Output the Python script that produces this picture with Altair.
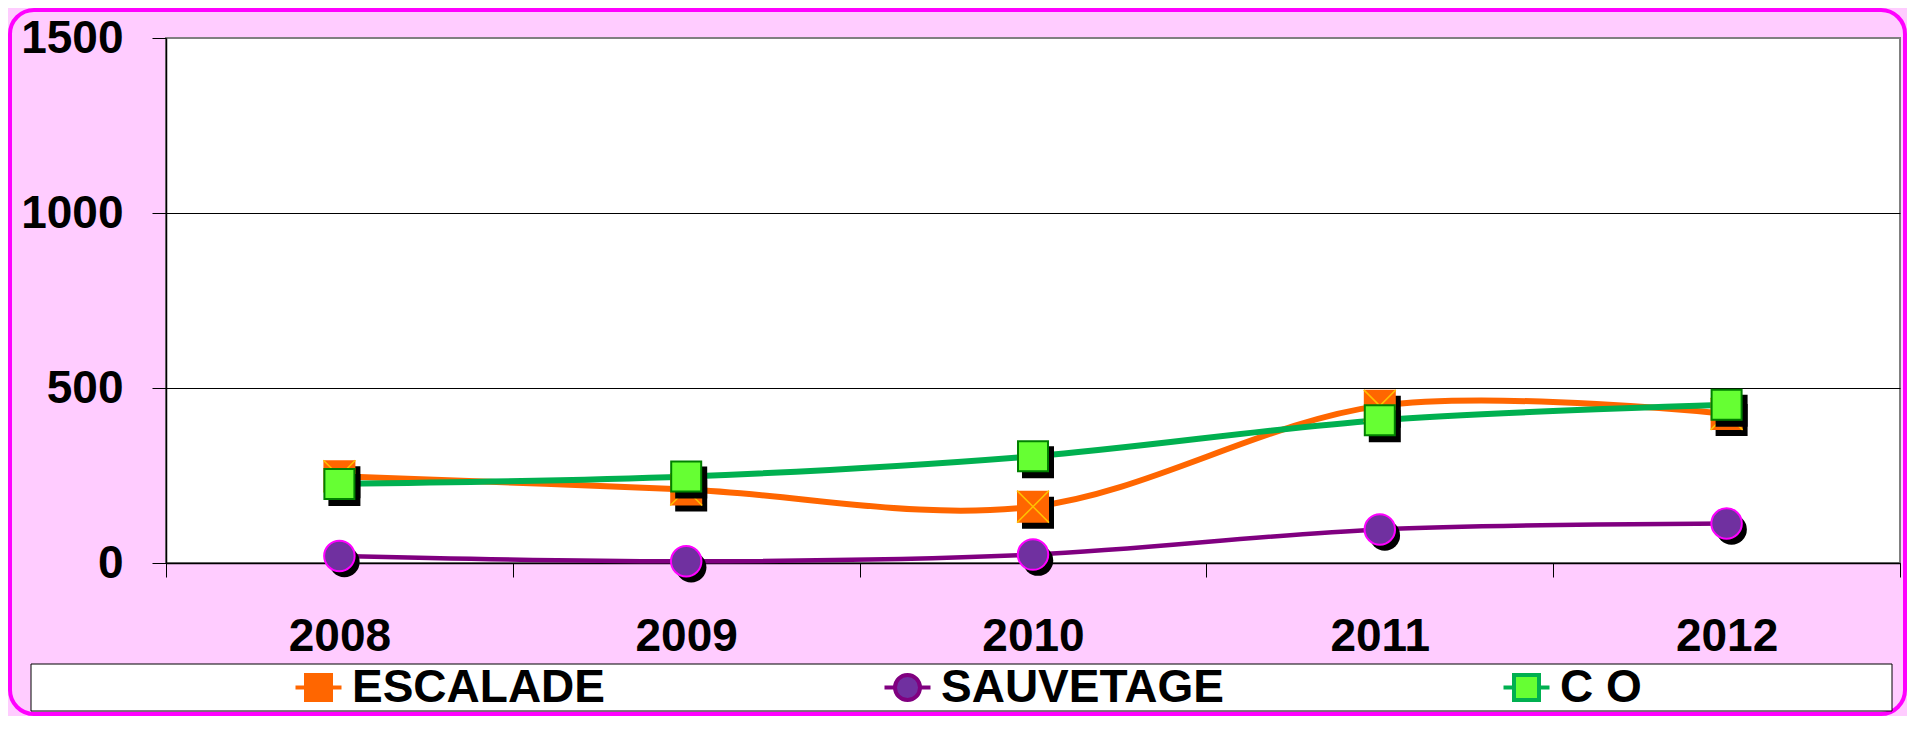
import altair as alt
import pandas as pd

# ---------------- data ----------------
years = ["2008", "2009", "2010", "2011", "2012"]
series_names = ["ESCALADE", "SAUVETAGE", "C O"]
escalade = [248, 210, 161, 449, 426]
sauvetage = [20, 5, 24, 96, 113]
co = [226, 247, 305, 408, 452]
y_ticks = [0, 500, 1000, 1500]

line_colors = ["#FF6600", "#800080", "#00B050"]
marker_fills = ["#FF6600", "#7030A0", "#66FF33"]

rows = []
for name, vals in zip(series_names, [escalade, sauvetage, co]):
    for yr, v in zip(years, vals):
        rows.append({"year": yr, "series": name, "value": v})
df = pd.DataFrame(rows)

# ---------------- layout / style ----------------
W, H = 1734, 525
TOP = 30
FONT = "Liberation Sans"
FS = 46

x_enc = alt.X(
    "year:N", sort=years, bandPosition=0.5,
    scale=alt.Scale(type="band", paddingInner=0, paddingOuter=0),
    axis=alt.Axis(title=None, labelAngle=0, tickBand="extent", grid=False,
                  labelFont=FONT, labelFontSize=FS, labelFontWeight="bold",
                  labelColor="black", tickSize=14, tickColor="black",
                  domainColor="black", domainWidth=1.5, labelPadding=37),
)
y_enc = alt.Y(
    "value:Q",
    scale=alt.Scale(domain=[0, 1500], nice=False),
    axis=alt.Axis(title=None, values=y_ticks, format="d", grid=True,
                  gridColor={"condition": {"test": "datum.value >= 1500", "value": "#808080"},
                             "value": "black"},
                  gridWidth=1,
                  labelFont=FONT, labelFontSize=FS, labelFontWeight="bold",
                  labelColor="black", tickSize=14, tickColor="black",
                  domainColor="black", domainWidth=1.5, labelPadding=29),
)

sq_path = "M-1.84,0H-1M1,0H1.84M-1,-1H1V1H-1Z"
ci_path = "M-1.84,0H-1M1,0H1.84M-1,0A1,1,0,1,1,1,0A1,1,0,1,1,-1,0Z"
shape_expr = f"datum.value == '{series_names[1]}' ? '{ci_path}' : '{sq_path}'"
fill_expr = (f"datum.value == '{series_names[0]}' ? '{marker_fills[0]}' : "
             f"datum.value == '{series_names[1]}' ? '{marker_fills[1]}' : '{marker_fills[2]}'")

legend = alt.Legend(
    title=None, orient="none", legendX=129.5, legendY=656.5 - TOP,
    direction="horizontal", columns=3, columnPadding=271,
    labelFont=FONT, labelFontSize=FS, labelFontWeight="bold", labelColor="black",
    labelLimit=0, labelOffset=10.5, symbolSize=625, symbolStrokeWidth=4,
    symbolType=alt.ExprRef(expr=shape_expr),
    symbolFillColor=alt.ExprRef(expr=fill_expr),
    symbolOpacity=1, zindex=1,
)
color_enc = alt.Color("series:N", scale=alt.Scale(domain=series_names, range=line_colors),
                      legend=legend)

base = alt.Chart(df)

def line_layer(name, width):
    return base.transform_filter(alt.datum.series == name).mark_line(
        interpolate="cardinal", strokeWidth=width
    ).encode(x=x_enc, y=y_enc, color=color_enc)

def pts(name, **kw):
    return base.transform_filter(alt.datum.series == name).mark_point(
        opacity=1, **kw).encode(x=x_enc, y=y_enc)

lines = [line_layer(series_names[0], 6), line_layer(series_names[1], 4.5), line_layer(series_names[2], 6)]

x_path = "M-1,-1L1,1M-1,1L1,-1"
markers = [
    pts(series_names[0], shape="square", size=1024, filled=True, fill="black", strokeWidth=0, xOffset=5, yOffset=6),
    pts(series_names[0], shape="square", size=1024, filled=True, fill=marker_fills[0], strokeWidth=0),
    pts(series_names[0], shape=x_path, size=1024, filled=False, fill="transparent", stroke="#FFC000", strokeWidth=1.5),
    pts(series_names[1], shape="circle", size=930, filled=True, fill="black", strokeWidth=0, xOffset=5, yOffset=6),
    pts(series_names[1], shape="circle", size=930, filled=True, fill=marker_fills[1], stroke="#FF00FF", strokeWidth=2),
    pts(series_names[2], shape="square", size=1024, filled=True, fill="black", strokeWidth=0, xOffset=5, yOffset=6),
    pts(series_names[2], shape="square", size=900, filled=True, fill=marker_fills[2], stroke="#008000", strokeWidth=2),
]

deco = pd.DataFrame({"k": [0]})
border = alt.Chart(deco).mark_rect(
    fill="transparent", stroke="#FF00FF", strokeWidth=4, cornerRadius=24
).encode(x=alt.value(-156), x2=alt.value(1739), y=alt.value(2 - TOP), y2=alt.value(706 - TOP))
legend_box = alt.Chart(deco).mark_rect(
    fill="white", stroke="black", strokeWidth=1
).encode(x=alt.value(-135), x2=alt.value(1726), y=alt.value(656 - TOP), y2=alt.value(703 - TOP))

chart = alt.layer(border, legend_box, *lines, *markers).properties(
    width=W, height=H,
    autosize=alt.AutoSizeParams(type="none"),
    padding={"left": 158, "top": TOP, "right": 7, "bottom": 708 - TOP - H},
    background="#FFCCFF",
).configure_view(fill="white", stroke="#808080", strokeWidth=2)

chart.save("out.html", embed_options={"renderer": "svg", "actions": False})
